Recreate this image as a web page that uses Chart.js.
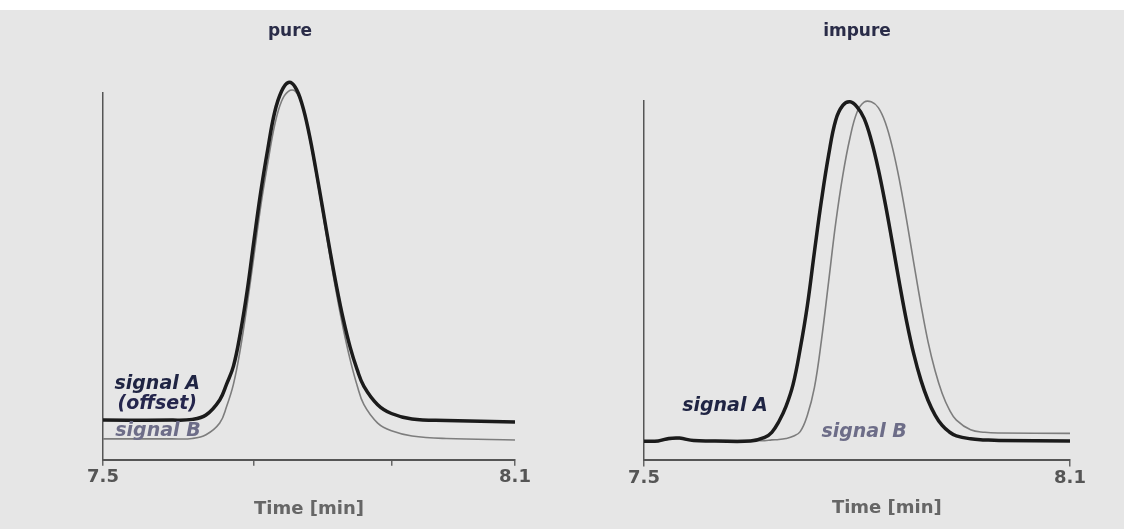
<!DOCTYPE html>
<html>
<head>
<meta charset="utf-8">
<title>pure / impure peak</title>
<script src="https://cdn.jsdelivr.net/npm/chart.js@4.4.1/dist/chart.umd.min.js"></script>
<style>
  body { margin: 0; background: #fff; }
  #bg { position: absolute; left: 0; top: 10px; width: 1124px; height: 519px; background: #e6e6e6; }
  canvas { position: absolute; top: 0; }
</style>
</head>
<body>
<div id="bg"></div>
<canvas id="pure" width="562" height="529" style="left:0"></canvas>
<canvas id="impure" width="562" height="529" style="left:562px"></canvas>

<script>
// values (time in min, signal in % of peak height)
const pureTime = [7.50, 7.60, 7.63, 7.65, 7.67, 7.68, 7.69, 7.70, 7.71, 7.72, 7.73, 7.74, 7.75, 7.76, 7.77, 7.78,
  7.79, 7.80, 7.81, 7.82, 7.83, 7.84, 7.85, 7.86, 7.87, 7.88, 7.90, 7.92, 7.95, 8.00, 8.10];
const pureSignalA = [10.8, 10.8, 11.0, 12.2, 16.3, 20.6, 25.5, 34.5, 46.0, 59.9, 73.2, 84.6, 94.6, 100.3, 102.7, 101.4,
  96.7, 88.9, 79.0, 68.3, 57.5, 47.3, 38.2, 30.6, 24.6, 20.0, 15.0, 12.6, 11.1, 10.7, 10.3];
const pureSignalB = [5.7, 5.7, 5.8, 6.8, 10.0, 14.5, 20.6, 30.1, 42.3, 55.8, 69.4, 80.8, 91.1, 97.6, 100.3, 100.3,
  96.5, 88.3, 78.2, 67.2, 56.0, 45.3, 35.6, 27.2, 20.3, 15.0, 10.0, 7.9, 6.5, 5.8, 5.4];

const impureTime = [7.50, 7.52, 7.535, 7.55, 7.57, 7.60, 7.65, 7.67, 7.68, 7.69, 7.70, 7.71, 7.72, 7.73, 7.74,
  7.75, 7.76, 7.77, 7.78, 7.79, 7.80, 7.81, 7.82, 7.83, 7.84, 7.85, 7.86, 7.87, 7.88, 7.89, 7.90, 7.91, 7.92,
  7.93, 7.94, 7.96, 7.98, 8.00, 8.10];
const impureSignalA = [5.3, 5.4, 6.1, 6.2, 5.5, 5.4, 5.4, 6.4, 7.8, 10.8, 15.0, 21.1, 31.0, 42.9, 57.9,
  72.3, 84.8, 94.5, 98.6, 99.6, 98.2, 95.0, 89.0, 80.9, 71.1, 60.2, 49.0, 38.5, 29.5, 22.3, 16.7, 12.6, 9.7,
  7.9, 6.8, 6.0, 5.7, 5.5, 5.4];
const impureSignalB = [5.3, 5.4, 5.8, 6.0, 5.5, 5.5, 5.5, 5.5, 5.7, 5.8, 6.1, 6.7, 8.0, 12.5, 20.2,
  33.5, 49.6, 65.9, 79.2, 89.5, 96.7, 99.5, 99.6, 98.0, 93.8, 86.8, 77.6, 66.6, 54.8, 43.3, 33.0, 24.9, 18.6,
  14.1, 11.2, 8.5, 7.8, 7.6, 7.5];

const pureTicks = [7.5, 7.72, 7.92, 8.1];
const impureTicks = [7.5, 8.1];
const tickLabels = [7.5, 8.1];

// text written inside the plot, placed in data units
const pureNotes = [
  { text: 'signal A', t: 7.579, v: 20.6, color: '#1f2443' },
  { text: '(offset)', t: 7.579, v: 15.2, color: '#25264d' },
  { text: 'signal B', t: 7.580, v: 7.9, color: '#6d6d88' },
];
const impureNotes = [
  { text: 'signal A', t: 7.614, v: 15.2, color: '#1f2443' },
  { text: 'signal B', t: 7.810, v: 7.8, color: '#6d6d88' },
  { text: 'Time [min]', t: 7.842, v: -13.3, color: '#666', font: 'bold 18px "DejaVu Sans"' },
];

const toPoints = (xs, ys) => xs.map((x, i) => ({ x: x, y: ys[i] }));

function notesPlugin(notes) {
  return {
    id: 'notes',
    afterDatasetsDraw(chart) {
      const { ctx, scales } = chart;
      ctx.save();
      ctx.textAlign = 'center';
      ctx.textBaseline = 'middle';
      notes.forEach((n) => {
        ctx.font = n.font || 'italic bold 19px "DejaVu Sans"';
        ctx.fillStyle = n.color;
        ctx.fillText(n.text, scales.x.getPixelForValue(n.t), scales.y.getPixelForValue(n.v));
      });
      ctx.restore();
    },
  };
}

function peakChart(id, cfg) {
  return new Chart(document.getElementById(id), {
    type: 'line',
    data: {
      datasets: [
        { label: 'signal A', data: toPoints(cfg.time, cfg.a), borderColor: '#1b1b1b', borderWidth: 3.5 },
        { label: 'signal B', data: toPoints(cfg.time, cfg.b), borderColor: '#7d7d7d', borderWidth: 1.6 },
      ],
    },
    options: {
      responsive: false,
      animation: false,
      devicePixelRatio: 1,
      layout: { padding: cfg.padding },
      elements: {
        point: { radius: 0 },
        line: { tension: 0.4, fill: false, borderJoinStyle: 'round' },
      },
      datasets: { line: { clip: false } },
      plugins: {
        legend: { display: false },
        tooltip: { enabled: false },
        title: {
          display: true,
          text: cfg.title,
          color: '#2a2c48',
          font: { family: '"DejaVu Sans"', size: 17, weight: 'bold' },
          padding: cfg.titlePadding,
        },
      },
      scales: {
        x: {
          type: 'linear',
          min: 7.5,
          max: 8.1,
          afterBuildTicks: (s) => { s.ticks = cfg.ticks.map((v) => ({ value: v })); },
          ticks: {
            autoSkip: false,
            maxRotation: 0,
            padding: 1,
            color: '#555',
            font: { family: '"DejaVu Sans"', size: 18, weight: 'bold' },
            callback: (v) => (tickLabels.includes(v) ? v.toFixed(1) : ''),
          },
          grid: { drawOnChartArea: false, tickLength: 6, color: '#666', lineWidth: 1.5 },
          border: { color: '#555', width: 2 },
          title: {
            display: cfg.axisTitle,
            text: 'Time [min]',
            color: '#666',
            font: { family: '"DejaVu Sans"', size: 18, weight: 'bold' },
            padding: { top: 9, bottom: 0 },
          },
        },
        y: {
          min: 0,
          max: 100,
          afterFit: (s) => { s.width = cfg.yWidth; },
          ticks: { display: false },
          grid: { display: false },
          border: { color: '#555', width: 1.5 },
        },
      },
    },
    plugins: [notesPlugin(cfg.notes)],
  });
}

peakChart('pure', {
  title: 'pure',
  time: pureTime, a: pureSignalA, b: pureSignalB,
  ticks: pureTicks, notes: pureNotes, axisTitle: true,
  yWidth: 38,
  padding: { left: 65, right: 47, top: 0, bottom: 9 },
  titlePadding: { top: 21, bottom: 51 },
});

peakChart('impure', {
  title: 'impure',
  time: impureTime, a: impureSignalA, b: impureSignalB,
  ticks: impureTicks, notes: impureNotes, axisTitle: false,
  yWidth: 0,
  padding: { left: 82, right: 54, top: 0, bottom: 39 },
  titlePadding: { top: 21, bottom: 59 },
});
</script>
</body>
</html>
